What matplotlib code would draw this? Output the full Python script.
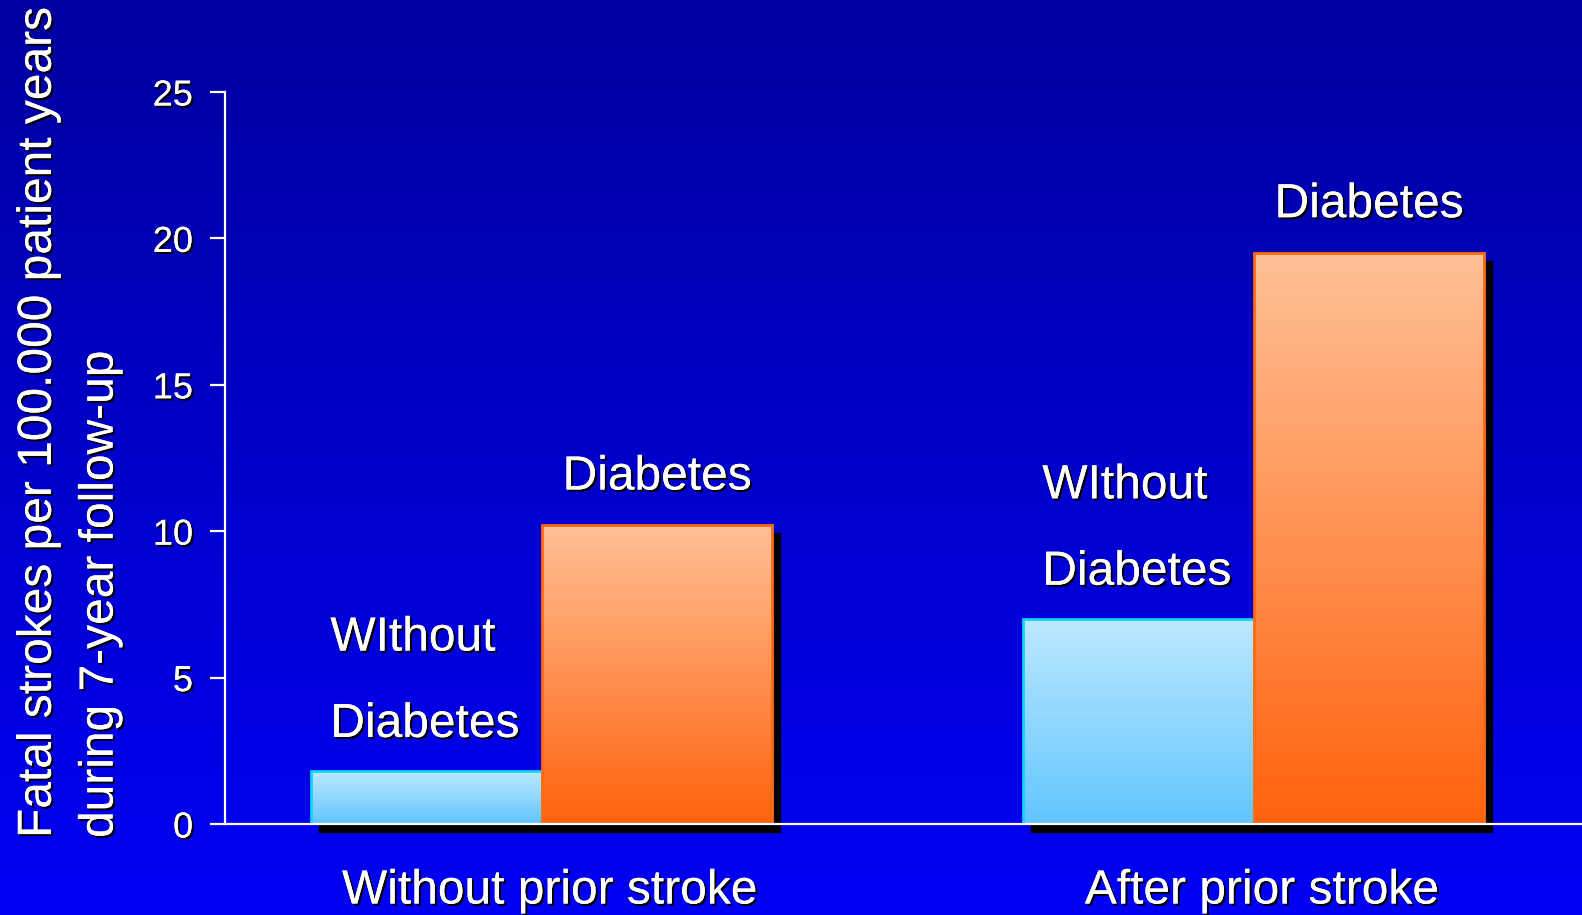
import numpy as np
import matplotlib
matplotlib.use("Agg")
import matplotlib.pyplot as plt
import matplotlib.patheffects as pe
from matplotlib.patches import Rectangle
from matplotlib.transforms import offset_copy
from matplotlib.colors import LinearSegmentedColormap

plt.rcParams['font.family'] = ['Liberation Sans', 'DejaVu Sans']

groups = ['Without prior stroke', 'After prior stroke']
without_diabetes = [1.8, 7.0]
with_diabetes = [10.2, 19.5]
yticks = [0, 5, 10, 15, 20, 25]

shadow = [pe.withSimplePatchShadow(offset=(1.5, -1.5), shadow_rgbFace='black', alpha=1.0), pe.Normal()]

fig = plt.figure(figsize=(15.82, 9.15), dpi=100)

# background gradient
bg = fig.add_axes([0, 0, 1, 1], zorder=-10)
bg_cmap = LinearSegmentedColormap.from_list('bg', ['#0000a0', '#0000f5'])
bg.imshow(np.linspace(0, 1, 256).reshape(-1, 1), cmap=bg_cmap, aspect='auto', extent=(0, 1, 0, 1))
bg.set_axis_off()

ax = fig.add_axes([225 / 1582, 1 - 824 / 915, 1 - 225 / 1582, (824 - 92) / 915])
ax.set_facecolor('none')
ax.set_xlim(-0.445, 1.461)
ax.set_ylim(0, 25)

w = 0.324
blue_cmap = LinearSegmentedColormap.from_list('blue', ['#62c6ff', '#bce8ff'])
orange_cmap = LinearSegmentedColormap.from_list('orange', ['#ff620c', '#ffc096'])
grad = np.linspace(0, 1, 256).reshape(-1, 1)

shadow_tr = offset_copy(ax.transData, fig=fig, x=8, y=-8, units='dots')

for i in range(len(groups)):
    # shadow behind both bars of the group
    left = i - w
    ax.add_patch(Rectangle((left, 0), w, without_diabetes[i], color='black', transform=shadow_tr, zorder=1, clip_on=False))
    ax.add_patch(Rectangle((i, 0), w, with_diabetes[i], color='black', transform=shadow_tr, zorder=1, clip_on=False))

    ax.imshow(grad, cmap=blue_cmap, origin='lower', aspect='auto',
              extent=(left, i, 0, without_diabetes[i]), zorder=2)
    ax.add_patch(Rectangle((left, 0), w, without_diabetes[i], fill=False, edgecolor='#10d0ff', lw=2, zorder=3))
    ax.imshow(grad, cmap=orange_cmap, origin='lower', aspect='auto',
              extent=(i, i + w, 0, with_diabetes[i]), zorder=4)
    ax.add_patch(Rectangle((i, 0), w, with_diabetes[i], fill=False, edgecolor='#ff6a10', lw=2, zorder=5))

    ax.text(i + w / 2, with_diabetes[i] + 1.65, 'Diabetes', color='white', fontsize=34.5,
            ha='center', va='center', path_effects=shadow)
    ax.text(left + 0.027, without_diabetes[i] + 1.6, 'Diabetes', color='white', fontsize=34.5,
            ha='left', va='center', path_effects=shadow)
    ax.text(left + 0.027, without_diabetes[i] + 4.55, 'WIthout', color='white', fontsize=34.5,
            ha='left', va='center', path_effects=shadow)

# group labels under the axis
label_tr = offset_copy(ax.get_xaxis_transform(), fig=fig, x=8, y=-67, units='dots')
for i, g in enumerate(groups):
    ax.text(i, 0, g, transform=label_tr, fontsize=34.5, color='white',
            ha='center', va='center', path_effects=shadow)

ax.set_xticks([])
ax.set_yticks(yticks)
ax.set_yticklabels([str(t) for t in yticks], fontsize=26, color='white')
ax.tick_params(axis='y', length=11, width=1.6, color='white', pad=12)
for lab in ax.get_yticklabels():
    lab.set_path_effects(shadow)

for s in ['top', 'right']:
    ax.spines[s].set_visible(False)
for s in ['left', 'bottom']:
    ax.spines[s].set_color('white')
    ax.spines[s].set_linewidth(1.6)
    ax.spines[s].set_zorder(10)

fig.text(0.010, 1 - 838 / 915, 'Fatal strokes per 100.000 patient years\nduring 7-year follow-up',
         rotation=90, fontsize=34.5, color='white', ha='left', va='bottom',
         multialignment='left', linespacing=1.48, path_effects=shadow)

fig.savefig('out.png', dpi=100)
